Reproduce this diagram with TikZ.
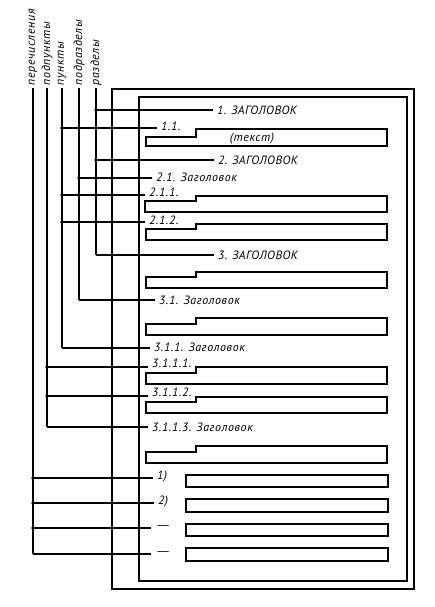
\documentclass[tikz,border=0pt]{standalone}
\usepackage{fontspec}
\setmainfont{PT Sans}
\newcommand\notchbox[4]{\draw (#1,#3) -- (196,#3) -- (196,#2) -- (387,#2) -- (387,#4) -- (#1,#4) -- cycle;}
\newcommand\plainbox[2]{\draw (186,#1) rectangle (388,#2);}
\newfontfamily\lowfont[LetterSpace=5]{PT Sans}
\newfontfamily\capfont[LetterSpace=4]{PT Sans}
\begin{document}
\begin{tikzpicture}[x=1pt,y=-1pt,line width=1.25pt,
  lbl/.style={font=\lowfont\itshape\fontsize{12}{14}\selectfont,inner xsep=3.5pt,inner ysep=0pt,anchor=west},
  hd/.style={lbl,font=\capfont\itshape\fontsize{12}{14}\selectfont},
  vlbl/.style={font=\lowfont\itshape\fontsize{12}{14}\selectfont,inner sep=0pt,rotate=90,anchor=west},
  dot/.style={circle,fill,inner sep=0pt,minimum size=3.8pt}]
\useasboundingbox (0,0) rectangle (434,607);
% frames
\draw (112,89) rectangle (414,589);
\draw (139,97) rectangle (407,581);
% vertical labels
\node[vlbl] (vp) at (33,86) {перечисления};
\node[vlbl] (vpp) at (47,86) {подпункты};
\node[vlbl] (vpu) at (62,86) {пункты};
\node[vlbl] (vpr) at (79,86) {подразделы};
\node[vlbl] (vr) at (96,86) {разделы};
% junction coordinates
\coordinate (r0) at (96,88);
\coordinate (r1) at (96,110);
\coordinate (r2) at (96,160);
\coordinate (r3) at (96,255);
\coordinate (s0) at (79,88);
\coordinate (s1) at (79,178);
\coordinate (s2) at (79,300);
\coordinate (p0) at (62,88);
\coordinate (p1) at (62,128);
\coordinate (p2) at (62,195);
\coordinate (p3) at (62,222);
\coordinate (p4) at (62,348);
\coordinate (q0) at (47,88);
\coordinate (q1) at (47,367);
\coordinate (q2) at (47,396);
\coordinate (q3) at (47,427);
\coordinate (e0) at (33,88);
\coordinate (e1) at (33,478);
\coordinate (e2) at (33,503);
\coordinate (e3) at (33,528);
\coordinate (e4) at (33,554);
% verticals
\draw (r0) -- (r3);
\draw (s0) -- (s2);
\draw (p0) -- (p4);
\draw (q0) -- (q3);
\draw (e0) -- (e4);
% text nodes
\node[hd] (h1) at (213,110) {1. ЗАГОЛОВОК};
\node[lbl] (t11) at (157,126) {1.1.};
\node[hd] (h2) at (214,160) {2. ЗАГОЛОВОК};
\node[lbl] (t21) at (152,177) {2.1. Заголовок};
\node[lbl] (t211) at (145,192) {2.1.1.};
\node[lbl] (t212) at (145,220) {2.1.2.};
\node[hd] (h3) at (214,255) {3. ЗАГОЛОВОК};
\node[lbl] (t31) at (155,300) {3.1. Заголовок};
\node[lbl] (t311) at (150,347) {3.1.1. Заголовок};
\node[lbl] (t3111) at (148,363) {3.1.1.1.};
\node[lbl] (t3112) at (148,392) {3.1.1.2.};
\node[lbl] (t3113) at (148,427) {3.1.1.3. Заголовок};
\node[lbl] (l1) at (153,477) {1)};
\node[lbl] (l2) at (154,502) {2)};
\node[lbl] (l3) at (151,528) {\scalebox{1.7}[1]{—}};
\node[lbl] (l4) at (151,554) {\scalebox{1.7}[1]{—}};
\node[font=\lowfont\itshape\fontsize{12}{14}\selectfont,inner sep=0pt] (tx) at (252,139) {(текст)};
% leaders
\draw (r1) -- (h1.west |- r1);
\draw (r2) -- (h2.west |- r2);
\draw (r3) -- (h3.west |- r3);
\draw (s1) -- (t21.west |- s1);
\draw (s2) -- (t31.west |- s2);
\draw (p1) -- (t11.west |- p1);
\draw (p2) -- (t211.west |- p2);
\draw (p3) -- (t212.west |- p3);
\draw (p4) -- (t311.west |- p4);
\draw (q1) -- (t3111.west |- q1);
\draw (q2) -- (t3112.west |- q2);
\draw (q3) -- (t3113.west |- q3);
\draw (e1) -- (l1.west |- e1);
\draw (e2) -- (l2.west |- e2);
\draw (e3) -- (l3.west |- e3);
\draw (e4) -- (l4.west |- e4);
% dots
\foreach \c in {r1,r2,s1,p1,p2,p3,q1,q2,e1,e2,e3}
  \node[dot] at (\c) {};
% boxes
\notchbox{146}{129}{137}{146}
\notchbox{145}{196}{201}{212}
\notchbox{146}{224}{229}{240}
\notchbox{146}{272}{277}{288}
\notchbox{146}{318}{324}{335}
\notchbox{146}{367}{373}{384}
\notchbox{146}{397}{402}{413}
\notchbox{146}{446}{452}{463}
\plainbox{475}{487}
\plainbox{499}{512}
\plainbox{524}{536}
\plainbox{548}{561}
\end{tikzpicture}
\end{document}
